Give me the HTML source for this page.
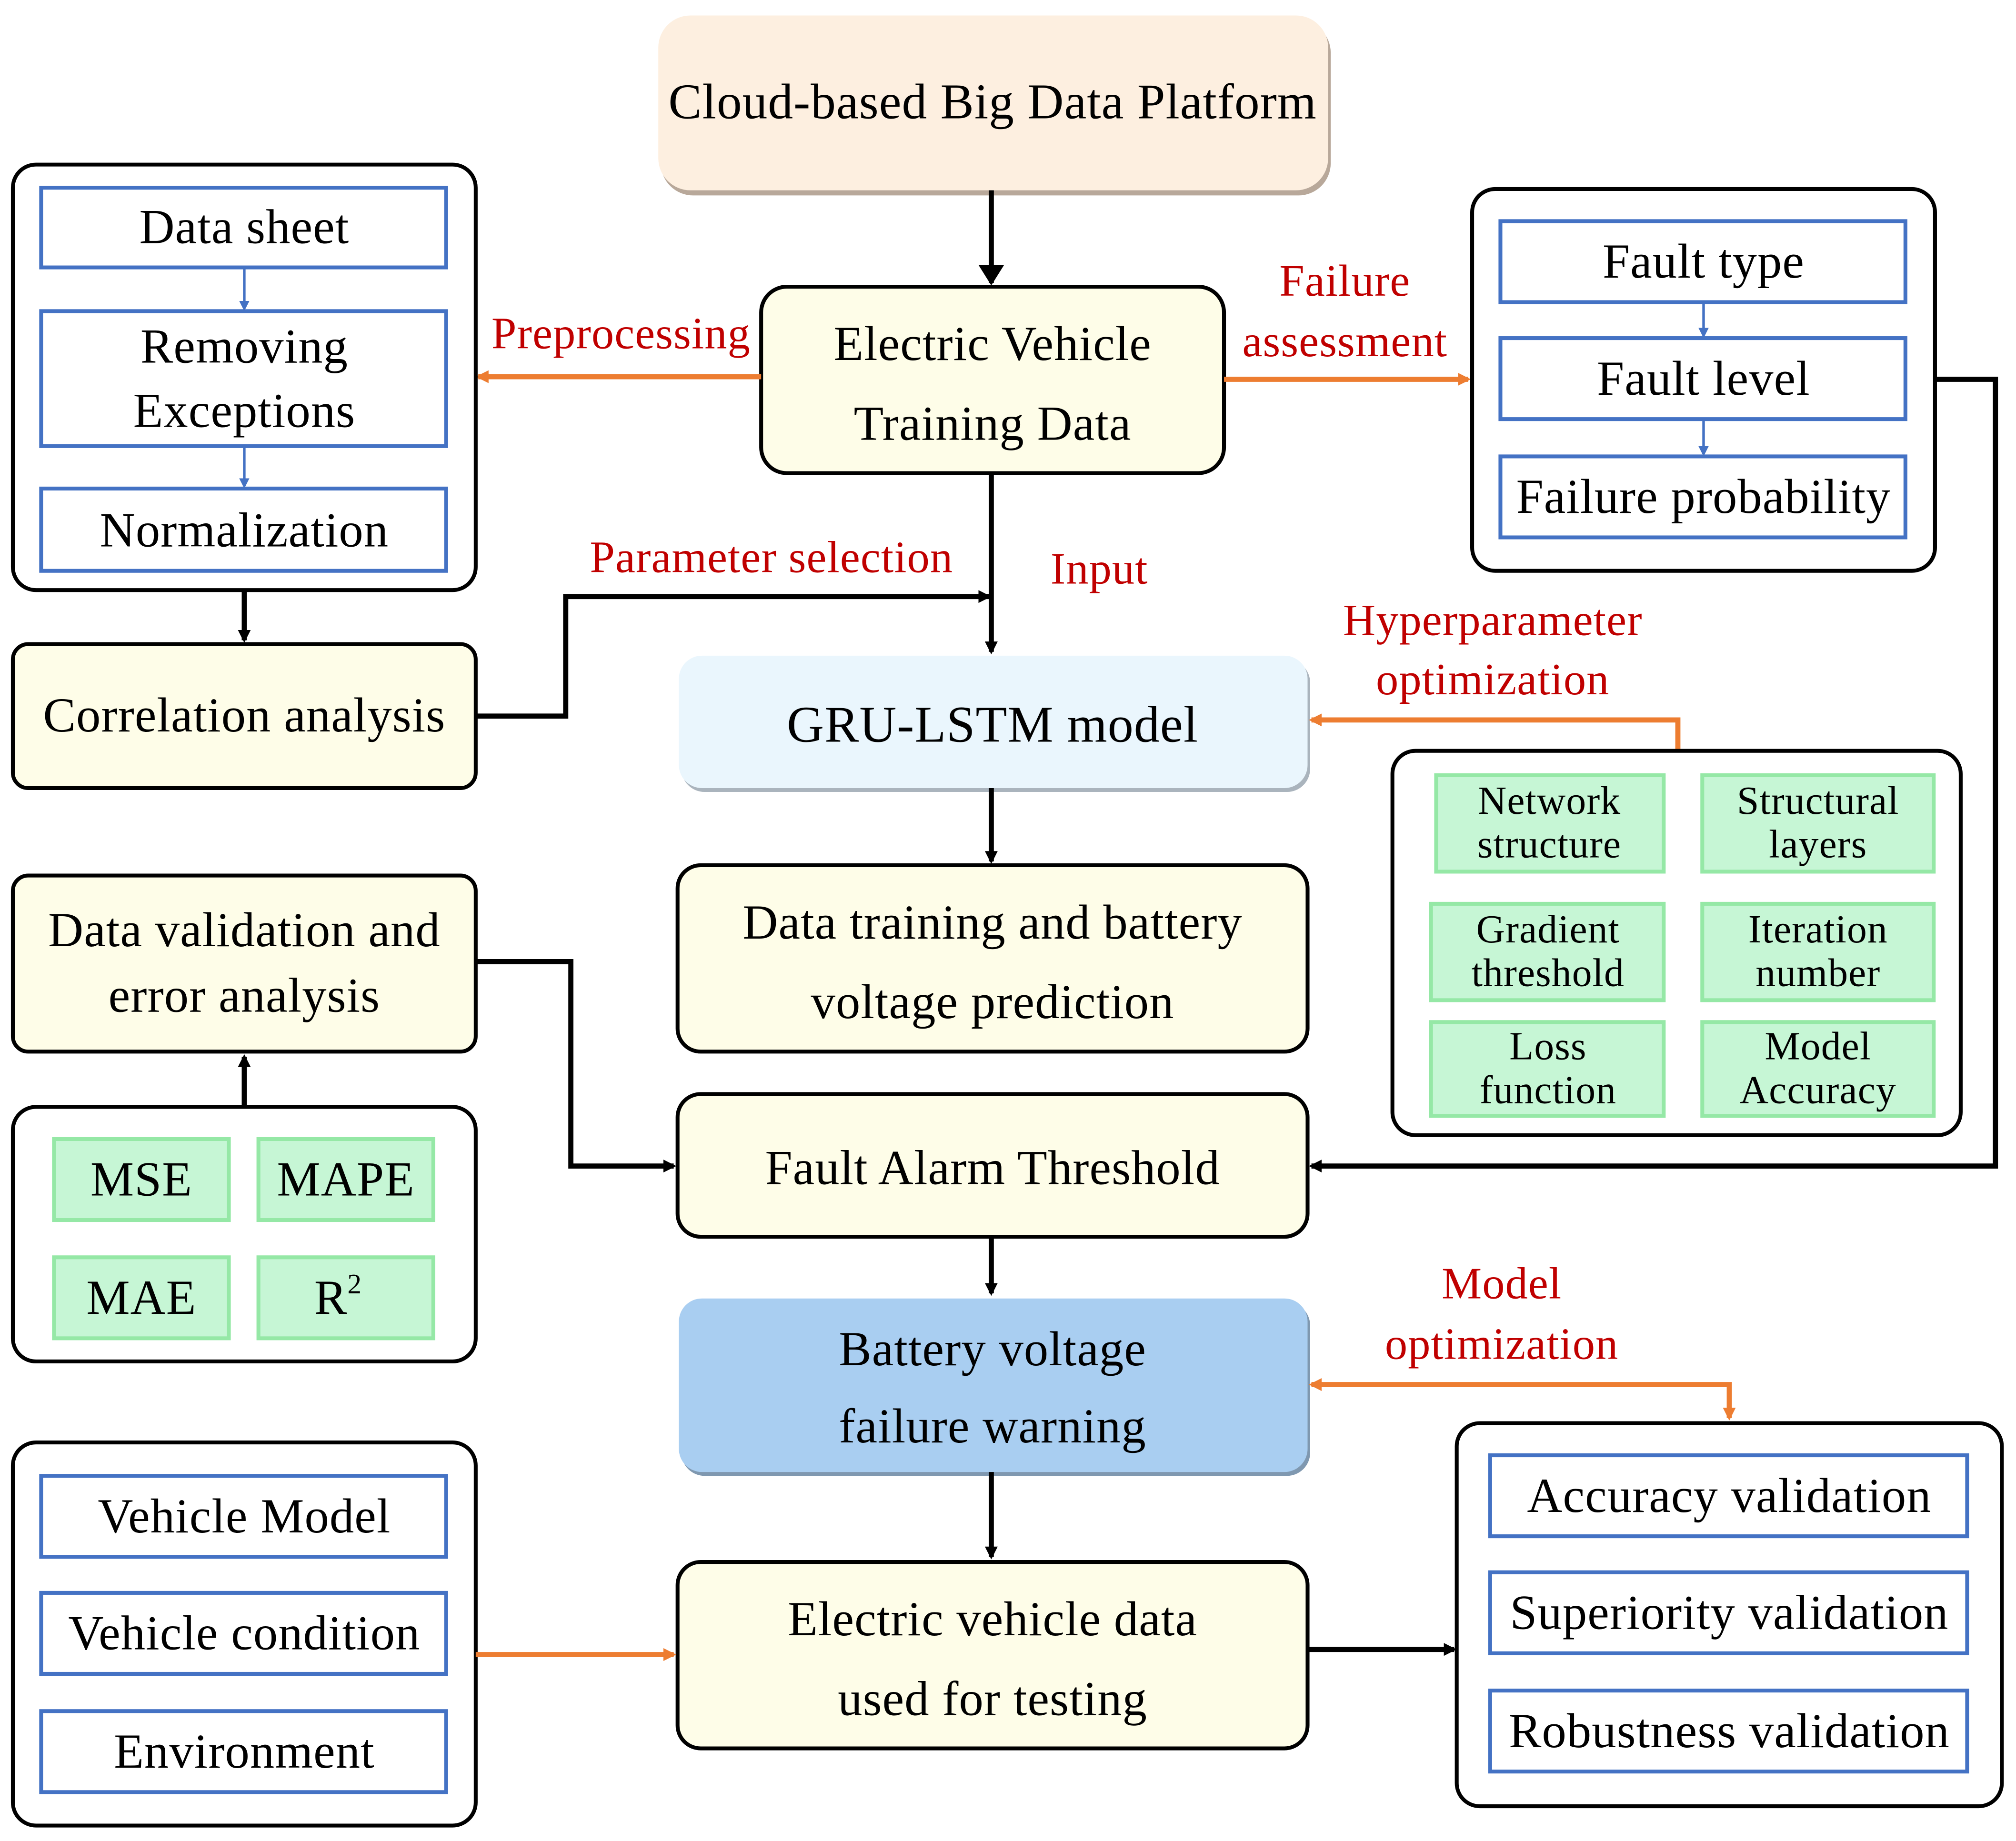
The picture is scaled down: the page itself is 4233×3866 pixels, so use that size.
<!DOCTYPE html>
<html><head><meta charset="utf-8"><style>
html,body{margin:0;padding:0;background:#fff;}
svg{display:block}
text{font-family:"Liberation Serif",serif;letter-spacing:0.4px}
</style></head><body>
<svg width="4233" height="3866" viewBox="0 0 1568 1432" xmlns="http://www.w3.org/2000/svg">
<defs>
<marker id="ab" markerWidth="10" markerHeight="10" refX="8" refY="5" orient="auto" markerUnits="userSpaceOnUse"><path d="M0,0 L10,5 L0,10 z" fill="#000"/></marker>
<marker id="ao" markerWidth="10" markerHeight="10" refX="8" refY="5" orient="auto-start-reverse" markerUnits="userSpaceOnUse"><path d="M0,0 L10,5 L0,10 z" fill="#ed7d31"/></marker>
<marker id="al" markerWidth="8" markerHeight="8" refX="6" refY="4" orient="auto" markerUnits="userSpaceOnUse"><path d="M0,0 L8,4 L0,8 z" fill="#4472c4"/></marker>
<marker id="abig" markerWidth="16" markerHeight="20" refX="14" refY="10" orient="auto" markerUnits="userSpaceOnUse"><path d="M0,0 L16,10 L0,20 z" fill="#000"/></marker>
</defs>
<g font-size="38" text-anchor="middle" fill="#000">
<rect x="514" y="16" width="521" height="136" rx="25" fill="#b8a89a"/>
<rect x="512" y="12" width="521" height="136" rx="25" fill="#fdefe0"/>
<text x="772" y="92" font-size="39">Cloud-based Big Data Platform</text>
<line x1="771" y1="148" x2="771" y2="220" stroke="#000" stroke-width="4" marker-end="url(#abig)"/>
<rect x="592" y="223" width="360" height="145" rx="20" fill="#fefde8" stroke="#000" stroke-width="3"/>
<text x="772" y="280">Electric Vehicle</text>
<text x="772" y="342">Training Data</text>
<line x1="592" y1="293" x2="372" y2="293" stroke="#ed7d31" stroke-width="4" marker-end="url(#ao)"/>
<text x="483" y="271" font-size="35" fill="#c00000">Preprocessing</text>
<line x1="952" y1="295" x2="1142" y2="295" stroke="#ed7d31" stroke-width="4" marker-end="url(#ao)"/>
<text x="1046" y="230" font-size="35" fill="#c00000">Failure</text>
<text x="1046" y="277" font-size="35" fill="#c00000">assessment</text>
<rect x="10" y="128" width="360" height="331" rx="18" fill="#fff" stroke="#000" stroke-width="3"/>
<g fill="#fff" stroke="#4472c4" stroke-width="3">
<rect x="32" y="146" width="315" height="62"/>
<rect x="32" y="242" width="315" height="105"/>
<rect x="32" y="380" width="315" height="64"/>
</g>
<line x1="190" y1="208" x2="190" y2="240" stroke="#4472c4" stroke-width="2" marker-end="url(#al)"/>
<line x1="190" y1="347" x2="190" y2="378" stroke="#4472c4" stroke-width="2" marker-end="url(#al)"/>
<text x="190" y="189">Data sheet</text>
<text x="190" y="282">Removing</text>
<text x="190" y="332">Exceptions</text>
<text x="190" y="425">Normalization</text>
<line x1="190" y1="459" x2="190" y2="498" stroke="#000" stroke-width="4" marker-end="url(#ab)"/>
<rect x="10" y="501" width="360" height="112" rx="12" fill="#fefde8" stroke="#000" stroke-width="3"/>
<text x="190" y="569">Correlation analysis</text>
<polyline points="370,557 440,557 440,464 769,464" fill="none" stroke="#000" stroke-width="4" marker-end="url(#ab)"/>
<text x="600" y="445" font-size="35" fill="#c00000">Parameter selection</text>
<line x1="771" y1="368" x2="771" y2="507" stroke="#000" stroke-width="4" marker-end="url(#ab)"/>
<text x="855" y="454" font-size="35" fill="#c00000">Input</text>
<rect x="530" y="513" width="489" height="103" rx="18" fill="#aab4bd"/>
<rect x="528" y="510" width="489" height="103" rx="18" fill="#eaf6fd"/>
<text x="772" y="577" font-size="40">GRU-LSTM model</text>
<line x1="771" y1="613" x2="771" y2="670" stroke="#000" stroke-width="4" marker-end="url(#ab)"/>
<rect x="527" y="673" width="490" height="145" rx="18" fill="#fefde8" stroke="#000" stroke-width="3"/>
<text x="772" y="730">Data training and battery</text>
<text x="772" y="792">voltage prediction</text>
<rect x="1145" y="147" width="360" height="297" rx="18" fill="#fff" stroke="#000" stroke-width="3"/>
<g fill="#fff" stroke="#4472c4" stroke-width="3">
<rect x="1167" y="172" width="315" height="63"/>
<rect x="1167" y="263" width="315" height="63"/>
<rect x="1167" y="355" width="315" height="63"/>
</g>
<line x1="1325" y1="235" x2="1325" y2="261" stroke="#4472c4" stroke-width="2" marker-end="url(#al)"/>
<line x1="1325" y1="326" x2="1325" y2="353" stroke="#4472c4" stroke-width="2" marker-end="url(#al)"/>
<text x="1325" y="216">Fault type</text>
<text x="1325" y="307">Fault level</text>
<text x="1325" y="399">Failure probability</text>
<polyline points="1505,295 1552,295 1552,907 1020,907" fill="none" stroke="#000" stroke-width="4" marker-end="url(#ab)"/>
<text x="1161" y="494" font-size="35" fill="#c00000">Hyperparameter</text>
<text x="1161" y="540" font-size="35" fill="#c00000">optimization</text>
<polyline points="1305,583 1305,560 1020,560" fill="none" stroke="#ed7d31" stroke-width="4" marker-end="url(#ao)"/>
<rect x="1083" y="584" width="442" height="299" rx="18" fill="#fff" stroke="#000" stroke-width="3"/>
<g fill="#c6f6d5" stroke="#95e8a6" stroke-width="3">
<rect x="1117" y="603" width="177" height="75"/>
<rect x="1324" y="603" width="180" height="75"/>
<rect x="1113" y="703" width="181" height="75"/>
<rect x="1324" y="703" width="180" height="75"/>
<rect x="1113" y="795" width="181" height="73"/>
<rect x="1324" y="795" width="180" height="73"/>
</g>
<g font-size="31">
<text x="1205" y="633">Network</text><text x="1205" y="667">structure</text>
<text x="1414" y="633">Structural</text><text x="1414" y="667">layers</text>
<text x="1204" y="733">Gradient</text><text x="1204" y="767">threshold</text>
<text x="1414" y="733">Iteration</text><text x="1414" y="767">number</text>
<text x="1204" y="824">Loss</text><text x="1204" y="858">function</text>
<text x="1414" y="824">Model</text><text x="1414" y="858">Accuracy</text>
</g>
<rect x="10" y="681" width="360" height="137" rx="12" fill="#fefde8" stroke="#000" stroke-width="3"/>
<text x="190" y="736">Data validation and</text>
<text x="190" y="787">error analysis</text>
<polyline points="370,748 444,748 444,907 524,907" fill="none" stroke="#000" stroke-width="4" marker-end="url(#ab)"/>
<line x1="190" y1="861" x2="190" y2="822" stroke="#000" stroke-width="4" marker-end="url(#ab)"/>
<rect x="10" y="861" width="360" height="198" rx="18" fill="#fff" stroke="#000" stroke-width="3"/>
<g fill="#c6f6d5" stroke="#95e8a6" stroke-width="3">
<rect x="42" y="886" width="136" height="63"/>
<rect x="201" y="886" width="136" height="63"/>
<rect x="42" y="978" width="136" height="63"/>
<rect x="201" y="978" width="136" height="63"/>
</g>
<text x="110" y="930">MSE</text>
<text x="269" y="930">MAPE</text>
<text x="110" y="1022">MAE</text>
<text x="263" y="1022">R<tspan font-size="22" dy="-16">2</tspan></text>
<rect x="527" y="851" width="490" height="111" rx="18" fill="#fefde8" stroke="#000" stroke-width="3"/>
<text x="772" y="921">Fault Alarm Threshold</text>
<line x1="771" y1="962" x2="771" y2="1006" stroke="#000" stroke-width="4" marker-end="url(#ab)"/>
<rect x="530" y="1013" width="489" height="135" rx="18" fill="#7f98b0"/>
<rect x="528" y="1010" width="489" height="135" rx="18" fill="#a9cef1"/>
<text x="772" y="1062">Battery voltage</text>
<text x="772" y="1122">failure warning</text>
<polyline points="1345,1103 1345,1077 1020,1077" fill="none" stroke="#ed7d31" stroke-width="4" marker-end="url(#ao)" marker-start="url(#ao)"/>
<text x="1168" y="1010" font-size="35" fill="#c00000">Model</text>
<text x="1168" y="1057" font-size="35" fill="#c00000">optimization</text>
<line x1="771" y1="1145" x2="771" y2="1211" stroke="#000" stroke-width="4" marker-end="url(#ab)"/>
<rect x="527" y="1215" width="490" height="145" rx="18" fill="#fefde8" stroke="#000" stroke-width="3"/>
<text x="772" y="1272">Electric vehicle data</text>
<text x="772" y="1334">used for testing</text>
<rect x="10" y="1122" width="360" height="298" rx="18" fill="#fff" stroke="#000" stroke-width="3"/>
<g fill="#fff" stroke="#4472c4" stroke-width="3">
<rect x="32" y="1148" width="315" height="63"/>
<rect x="32" y="1239" width="315" height="63"/>
<rect x="32" y="1331" width="315" height="63"/>
</g>
<text x="190" y="1192">Vehicle Model</text>
<text x="190" y="1283">Vehicle condition</text>
<text x="190" y="1375">Environment</text>
<line x1="370" y1="1287" x2="524" y2="1287" stroke="#ed7d31" stroke-width="4" marker-end="url(#ao)"/>
<line x1="1017" y1="1283" x2="1131" y2="1283" stroke="#000" stroke-width="4" marker-end="url(#ab)"/>
<rect x="1133" y="1107" width="424" height="298" rx="18" fill="#fff" stroke="#000" stroke-width="3"/>
<g fill="#fff" stroke="#4472c4" stroke-width="3">
<rect x="1159" y="1132" width="371" height="63"/>
<rect x="1159" y="1223" width="371" height="63"/>
<rect x="1159" y="1315" width="371" height="63"/>
</g>
<text x="1345" y="1176">Accuracy validation</text>
<text x="1345" y="1267">Superiority validation</text>
<text x="1345" y="1359">Robustness validation</text>
</g>
</svg>
</body></html>
